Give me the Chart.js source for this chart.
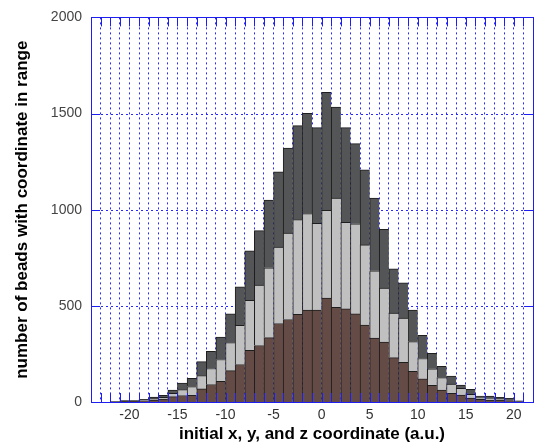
<!DOCTYPE html>
<html><head><meta charset="utf-8">
<script src="https://cdn.jsdelivr.net/npm/chart.js@4"></script>
<style>html,body{margin:0;padding:0;background:#fff;}canvas{display:block;}</style>
</head><body>
<canvas id="c" width="538" height="447"></canvas>
<script>
const binCenters = [-21.5,-20.5,-19.5,-18.5,-17.5,-16.5,-15.5,-14.5,-13.5,-12.5,-11.5,-10.5,-9.5,-8.5,-7.5,-6.5,-5.5,-4.5,-3.5,-2.5,-1.5,-0.5,0.5,1.5,2.5,3.5,4.5,5.5,6.5,7.5,8.5,9.5,10.5,11.5,12.5,13.5,14.5,15.5,16.5,17.5,18.5,19.5,20.5,21.5];
const brownCounts = [1,3,3,6,10,15,28,34,35,68,91,107,163,195,269,294,335,408,429,456,478,478,541,492,484,458,400,332,311,231,206,159,121,87,62,45,36,21,14,10,10,7,2,0];
const lightCounts = [1,2,2,3,6,9,17,30,45,69,83,114,146,204,260,314,363,397,450,492,502,451,456,568,450,469,417,350,281,232,231,155,105,86,65,48,35,19,8,7,6,5,2,0];
const darkCounts  = [1,3,3,5,9,11,17,35,43,73,89,116,149,200,257,283,352,392,442,489,521,498,613,474,493,417,390,378,306,230,183,164,121,80,59,42,17,26,9,14,8,7,2,0];
const xTickLabels = [-20,-15,-10,-5,0,5,10,15,20];
const yTickValues = [0,500,1000,1500,2000];

const FONT = "'Liberation Sans', Arial, sans-serif";
const BLUE = 'rgb(30,30,240)';
const GRID = 'rgb(40,40,255)';

const hgrid = {
  id: 'hgrid',
  beforeDatasetsDraw(chart) {
    const {ctx, chartArea: a, scales: {y}} = chart;
    ctx.save();
    ctx.strokeStyle = GRID;
    ctx.lineWidth = 1;
    ctx.setLineDash([2, 3]);
    ctx.beginPath();
    for (const v of yTickValues) {
      if (v === 0 || v === 2000) continue;
      const py = Math.round(y.getPixelForValue(v)) + 0.5;
      ctx.moveTo(a.left, py); ctx.lineTo(a.right, py);
    }
    ctx.stroke();
    ctx.restore();
  }
};

const frame = {
  id: 'frame',
  afterDatasetsDraw(chart) {
    const {ctx, chartArea: a, scales: {x, y}} = chart;
    ctx.save();
    ctx.strokeStyle = BLUE;
    ctx.lineWidth = 1;
    ctx.beginPath();
    for (let v = Math.ceil(x.min); v <= x.max; v++) {
      const px = Math.round(x.getPixelForValue(v)) + 0.5;
      ctx.moveTo(px, a.bottom); ctx.lineTo(px, a.bottom - 9);
      ctx.moveTo(px, a.top); ctx.lineTo(px, a.top + 9);
    }
    for (const v of yTickValues) {
      const py = Math.round(y.getPixelForValue(v)) + 0.5;
      ctx.moveTo(a.left, py); ctx.lineTo(a.left + 9, py);
      ctx.moveTo(a.right, py); ctx.lineTo(a.right - 9, py);
    }
    ctx.stroke();
    ctx.strokeRect(Math.round(a.left) + 0.5, Math.round(a.top) + 0.5,
                   Math.round(a.right - a.left), Math.round(a.bottom - a.top));
    ctx.restore();
  }
};

const mk = (label, vals, color) => ({
  label,
  data: binCenters.map((c, i) => ({x: c, y: vals[i]})),
  backgroundColor: color,
  borderColor: '#1e1e1e',
  borderWidth: {top: 1, left: 1, right: 0, bottom: 0},
  borderSkipped: false,
  barPercentage: 1,
  categoryPercentage: 1
});

new Chart(document.getElementById('c'), {
  type: 'bar',
  data: {
    datasets: [
      mk('brown', brownCounts, '#654b45'),
      mk('light', lightCounts, '#c0c0c0'),
      mk('dark', darkCounts, '#545556')
    ]
  },
  plugins: [hgrid, frame],
  options: {
    responsive: false,
    animation: false,
    layout: {padding: {top: 16, right: 1, left: 0, bottom: 0}},
    plugins: {legend: {display: false}, tooltip: {enabled: false}},
    scales: {
      x: {
        type: 'linear', min: -24, max: 22, stacked: true, offset: false,
        grid: {color: GRID, lineWidth: 1, drawTicks: false, offset: false},
        border: {display: false, dash: [2, 3]},
        ticks: {
          stepSize: 1, autoSkip: false, maxRotation: 0, padding: 5, color: '#333',
          font: {family: FONT, size: 14},
          callback: v => xTickLabels.includes(Math.round(v)) && Math.abs(v - Math.round(v)) < 1e-6 ? String(Math.round(v)) : ''
        },
        title: {display: true, text: 'initial x, y, and z coordinate (a.u.)', color: '#000',
                font: {family: FONT, size: 17, weight: 'bold'}, padding: {top: 0, bottom: 2}},
        afterFit: s => { s.height = 45; }
      },
      y: {
        min: 0, max: 2000, stacked: true,
        grid: {display: false, drawTicks: false},
        border: {display: false},
        ticks: {stepSize: 500, padding: 9, color: '#444', font: {family: FONT, size: 14},
                callback: v => String(v)},
        title: {display: true, text: 'number of beads with coordinate in range', color: '#000',
                font: {family: FONT, size: 17, weight: 'bold'}, padding: {top: 12, bottom: 0}},
        afterFit: s => { s.width = 91; }
      }
    }
  }
});
</script>
</body></html>
